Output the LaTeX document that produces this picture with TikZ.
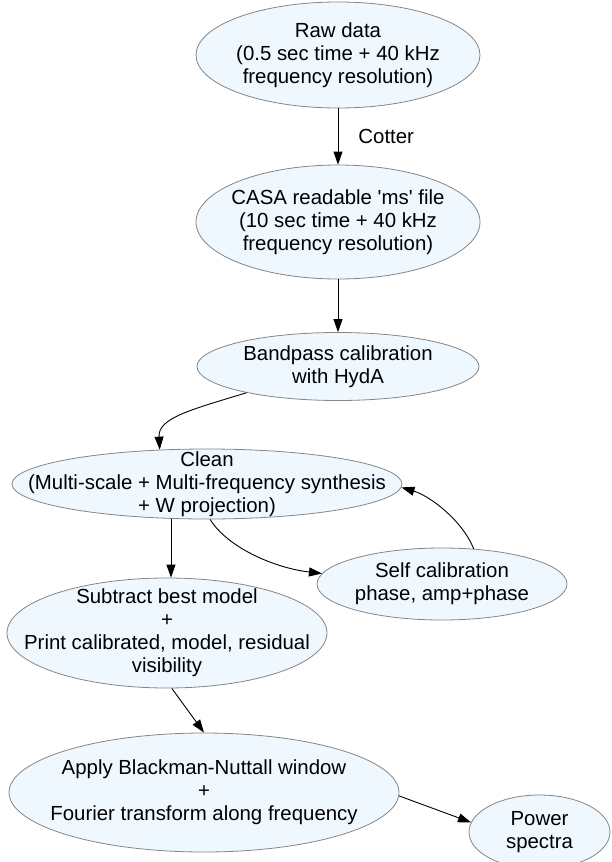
\documentclass[tikz,border=0pt]{standalone}
\usepackage{fontspec}
\setmainfont{Liberation Sans}
\usetikzlibrary{shapes.geometric,arrows.meta}
\definecolor{nodefill}{HTML}{F0F8FF}
\definecolor{nodeline}{HTML}{858585}
\begin{document}
\begin{tikzpicture}[x=1pt,y=-1pt,
  ell/.style={ellipse, draw=nodeline, fill=nodefill, line width=0.8pt, inner sep=0pt},
  txt/.style={align=center, inner sep=0pt, font=\fontsize{20.4}{23}\selectfont},
  edge/.style={draw=black, line width=0.9pt, -{Triangle[length=13pt,width=9pt]}}]
\useasboundingbox (0,0) rectangle (611,862);
% shapes
\node[ell, minimum width=284pt, minimum height=106pt] (raw) at (338,55) {};
\node[txt] (rawt) at (raw.center) {Raw data\\(0.5 sec time + 40 kHz\\frequency resolution)};
\node[ell, minimum width=284pt, minimum height=114pt] (casa) at (338,222) {};
\node[txt] (casat) at (casa.center) {CASA readable \textquotesingle ms\textquotesingle{} file\\(10 sec time + 40 kHz\\frequency resolution)};
\node[ell, minimum width=282pt, minimum height=68pt] (band) at (338,366.5) {};
\node[txt] (bandt) at (band.center) {Bandpass calibration\\with HydA};
\node[ell, minimum width=390pt, minimum height=70pt] (clean) at (207,484) {};
\node[txt] (cleant) at (clean.center) {Clean\\(Multi-scale + Multi-frequency synthesis\\+ W projection)};
\node[ell, minimum width=250pt, minimum height=72pt] (selfc) at (442,584) {};
\node[txt] (selfct) at (selfc.center) {Self calibration\\phase, amp+phase};
\node[ell, minimum width=320pt, minimum height=110pt] (sub) at (167,633) {};
\node[txt] (subt) at (sub.center) {Subtract best model\\+\\Print calibrated, model, residual\\visibility};
\node[ell, minimum width=390pt, minimum height=119pt] (apply) at (204,792.5) {};
\node[txt] (applyt) at (apply.center) {Apply Blackman-Nuttall window\\+\\Fourier transform along frequency};
\node[ell, minimum width=141pt, minimum height=74pt] (power) at (539.5,832) {};
\node[txt] (powert) at (power.center) {Power\\spectra};
% connectors
\draw[edge] (raw.south) -- node[txt, anchor=west, xshift=20pt] (cotter) {Cotter} (casa.north);
\draw[edge] (casa.south) -- (band.north);
\draw[edge] (band.196) .. controls (190,410) and (158,418) .. (clean.144);
\draw[edge] (clean.224) -- (clean.224 |- sub.north);
\draw[edge] (clean.275) .. controls (228,548) and (275,568) .. (selfc.175);
\draw[edge] (selfc.48) .. controls (462,520) and (430,496) .. (clean.-1);
\draw[edge] (sub.275) -- (apply.north);
\draw[edge] (apply.-1.5) -- (power.172);
\end{tikzpicture}
\end{document}
